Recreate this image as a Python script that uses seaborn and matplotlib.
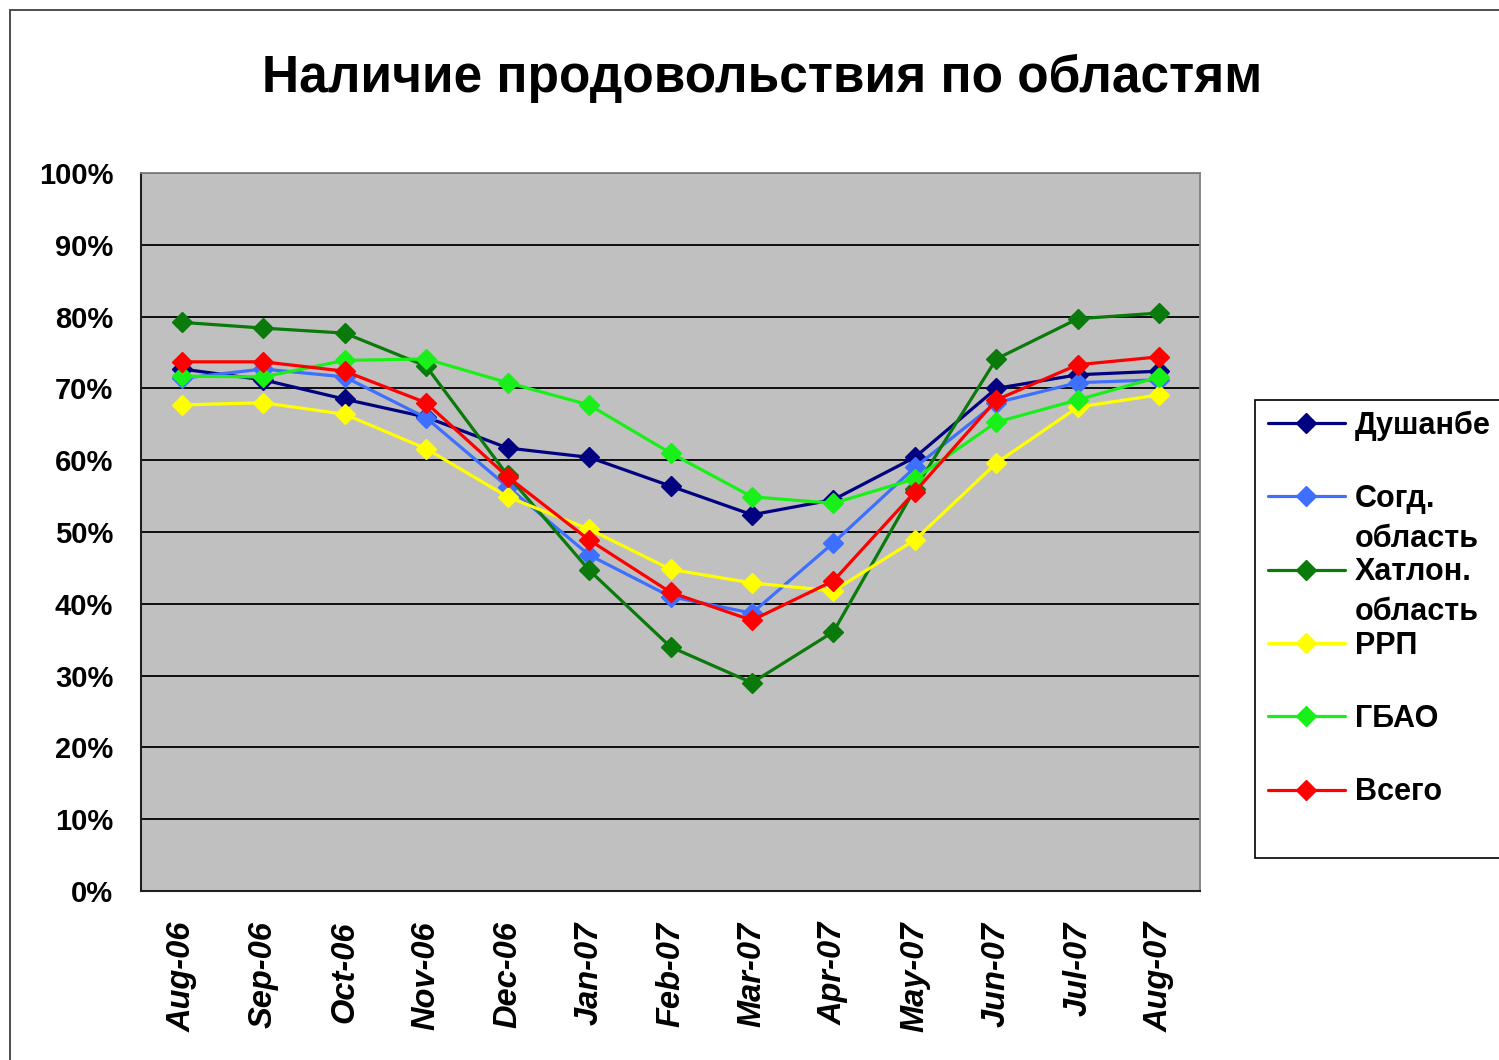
import numpy as np
import pandas as pd
import matplotlib
matplotlib.use('Agg')
import matplotlib.pyplot as plt
from matplotlib.patches import Rectangle
from matplotlib.ticker import FixedLocator, FuncFormatter
import seaborn as sns

# Data (percent of households)
months = ['Aug-06', 'Sep-06', 'Oct-06', 'Nov-06', 'Dec-06', 'Jan-07', 'Feb-07',
          'Mar-07', 'Apr-07', 'May-07', 'Jun-07', 'Jul-07', 'Aug-07']
regions = ['Душанбе', 'Согд. область', 'Хатлон. область', 'РРП', 'ГБАО', 'Всего']

dushanbe = [72.7, 71.2, 68.5, 66.0, 61.7, 60.4, 56.4, 52.4, 54.5, 60.4, 70.0, 71.9, 72.4]
sogd     = [71.4, 72.7, 71.6, 65.9, 56.3, 46.8, 41.0, 38.7, 48.5, 59.0, 68.0, 70.8, 71.2]
khatlon  = [79.2, 78.4, 77.7, 73.1, 57.9, 44.7, 34.0, 29.0, 36.1, 56.0, 74.1, 79.7, 80.5]
rrp      = [67.7, 68.0, 66.4, 61.6, 54.9, 50.4, 44.8, 42.9, 41.8, 48.9, 59.6, 67.4, 69.1]
gbao     = [71.7, 71.6, 73.9, 74.1, 70.8, 67.7, 61.0, 54.9, 54.0, 57.4, 65.3, 68.4, 71.6]
total    = [73.7, 73.7, 72.4, 68.0, 57.7, 48.9, 41.6, 37.7, 43.2, 55.6, 68.4, 73.3, 74.4]

series = [dushanbe, sogd, khatlon, rrp, gbao, total]
colors = ['#000080', '#3f6fff', '#0a7a0a', '#ffff00', '#19f019', '#ff0000']

sns.set_style('white')
plt.rcParams['font.family'] = ['Liberation Sans', 'DejaVu Sans']
plt.rcParams['font.weight'] = 'bold'
plt.rcParams['text.color'] = 'black'
plt.rcParams['xtick.color'] = 'black'
plt.rcParams['ytick.color'] = 'black'

fig = plt.figure(figsize=(14.99, 10.6), dpi=100)
W, H = 1499, 1060
ax = fig.add_axes([141 / W, (H - 891) / H, 1059 / W, 718 / H])
ax.set_facecolor('#c0c0c0')

for name, vals, c in zip(regions, series, colors):
    sns.lineplot(x=months, y=vals, ax=ax, color=c, lw=2.3, marker='D',
                 markersize=10, markeredgecolor=c, markeredgewidth=1,
                 sort=False, label=name.split(' ')[0])

ax.set_xlim(-0.5, 12.5)
ax.set_ylim(0, 100)
ax.set_yticks(np.arange(0, 101, 10))
ax.yaxis.set_major_formatter(FuncFormatter(lambda v, p: f'{int(v)}%'))
ax.yaxis.grid(True, color='black', lw=1.3)
ax.set_axisbelow(True)
ax.set_xlabel('')
ax.set_ylabel('')

ax.xaxis.set_minor_locator(FixedLocator(np.arange(-0.5, 13, 1)))
ax.tick_params(axis='x', which='major', length=0, pad=22, labelsize=23.5, labelrotation=90)
ax.tick_params(axis='x', which='minor', length=8, width=1.2, color='black', direction='out')
ax.tick_params(axis='y', which='major', length=8, width=1.2, color='black', direction='out',
               labelsize=21, pad=12)
for lbl in ax.get_xticklabels():
    lbl.set_fontstyle('italic')
    lbl.set_fontweight('bold')

for s in ['top', 'right']:
    ax.spines[s].set_color('#808080')
    ax.spines[s].set_linewidth(1.3)
for s in ['left', 'bottom']:
    ax.spines[s].set_color('#202020')
    ax.spines[s].set_linewidth(1.5)

# title
fig.text(762 / W, 1 - 78 / H, 'Наличие продовольствия по областям',
         ha='center', va='center', fontsize=37, fontweight='bold')

# outer frame
fig.patches.append(Rectangle((10 / W, -0.05), 1.1, 1.05 - 10 / H, transform=fig.transFigure,
                             fill=False, edgecolor='#404040', lw=1.3))

# legend box (runs off the right edge as in the original)
ax.add_patch(Rectangle((1255 / W, 1 - 858 / H), 300 / W, 458 / H,
                       transform=fig.transFigure, facecolor='white',
                       edgecolor='black', lw=1.2, zorder=4, clip_on=False))
handles, labels = ax.get_legend_handles_labels()
leg = ax.legend(handles, labels, loc='upper left',
                bbox_to_anchor=(1256 / W, 1 - 398 / H), bbox_transform=fig.transFigure,
                frameon=False, fontsize=22, handlelength=2.5, handletextpad=0.33,
                labelspacing=1.42, borderaxespad=0)
for t in leg.get_texts():
    t.set_fontweight('bold')
leg.set_zorder(6)

for i, name in enumerate(regions):
    parts = name.split(' ')
    if len(parts) > 1:
        ax.annotate(parts[1], xy=(0, 0), xycoords=leg.get_texts()[i],
                    xytext=(0, -7), textcoords='offset points', ha='left', va='top',
                    fontsize=22, fontweight='bold', annotation_clip=False, zorder=7)

fig.savefig('out.png', dpi=100)
